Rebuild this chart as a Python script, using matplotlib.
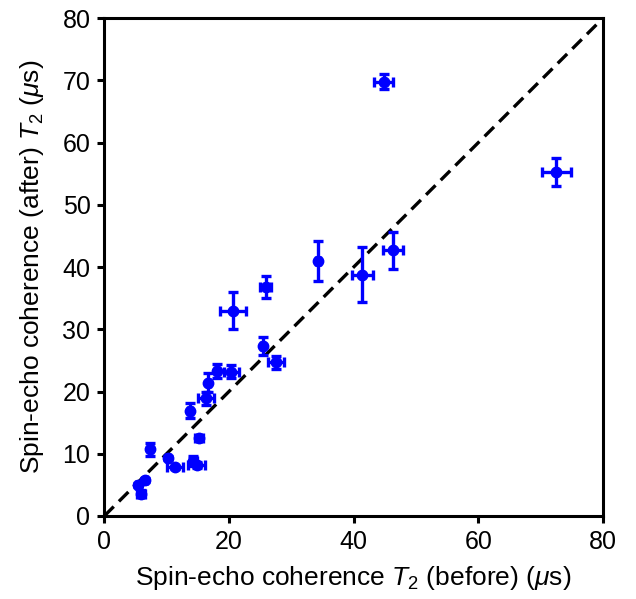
import matplotlib
matplotlib.use('Agg')
from matplotlib import pyplot

pyplot.rcParams['font.family'] = ['Liberation Sans', 'DejaVu Sans']
pyplot.rcParams['mathtext.fontset'] = 'custom'
pyplot.rcParams['mathtext.rm'] = 'Liberation Sans'
pyplot.rcParams['mathtext.it'] = 'Liberation Sans:italic'

# T2 before / after (us) with error bars
t2_before = [5.9, 5.4, 6.6, 7.4, 10.2, 11.3, 14.3, 14.8, 15.2, 13.7, 16.3, 16.7,
             18.1, 20.4, 25.4, 27.5, 20.6, 25.9, 34.3, 41.4, 46.3, 44.8, 72.5]
t2_after = [3.6, 5.0, 5.8, 10.7, 9.3, 7.8, 8.9, 8.2, 12.6, 16.9, 18.9, 21.4,
            23.3, 23.2, 27.3, 24.7, 33.0, 36.8, 41.0, 38.8, 42.7, 69.8, 55.3]
err_before = [0.6, 0.3, 0.3, 0.3, 0.3, 1.3, 0.6, 1.3, 0.6, 0.3, 1.3, 0.3,
              0.3, 1.2, 0.3, 1.3, 2.1, 0.9, 0.3, 1.7, 1.6, 1.5, 2.3]
err_after = [0.5, 0.3, 0.3, 1.0, 0.3, 0.3, 0.8, 0.5, 0.3, 1.2, 1.0, 1.5,
             1.2, 1.0, 1.5, 1.0, 3.0, 1.8, 3.2, 4.4, 3.0, 1.2, 2.3]

fig = pyplot.figure(figsize=(6.36, 5.99), dpi=100)
ax = fig.add_axes([0.164, 0.1386, 0.784, 0.831])

ax.plot([0, 80], [0, 80], color='black', linestyle=(0, (4, 2.2)), lw=2.4, zorder=1)
ax.errorbar(t2_before, t2_after, xerr=err_before, yerr=err_after, fmt='o',
            color='#0000ff', markersize=7.5, elinewidth=2.4, capsize=3.5, capthick=2.4,
            zorder=2)

ax.set_xlim(0, 80)
ax.set_ylim(0, 80)
ax.set_xticks([0, 20, 40, 60, 80])
ax.set_yticks(range(0, 81, 10))
ax.tick_params(direction='out', length=5, width=2.2, labelsize=18, pad=5)
for s in ax.spines.values():
    s.set_linewidth(2.2)

ax.set_xlabel(r"Spin-echo coherence $\mathit{T}_2$ (before) ($\mu$s)", fontsize=19, labelpad=7)
ax.set_ylabel(r"Spin-echo coherence (after) $\mathit{T}_2$ ($\mu$s)", fontsize=19, labelpad=12)

pyplot.savefig('out.png', dpi=100)
